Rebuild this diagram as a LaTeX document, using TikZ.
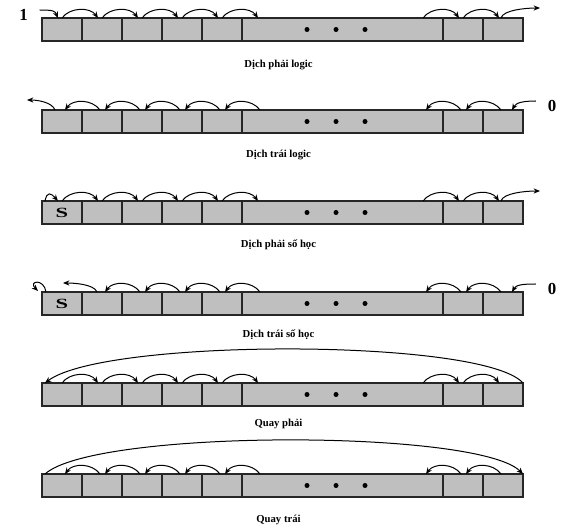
\documentclass[tikz,border=0pt]{standalone}
\usepackage{fontspec}
\usepackage{graphicx}
\setmainfont{Liberation Serif}
\usetikzlibrary{arrows.meta, positioning, calc}

\begin{document}
\begin{tikzpicture}[
    x=0.25mm, y=-0.25mm,
    cell/.style={
      draw=black!85,
      line width=0.6mm,
      fill=black!25,
      anchor=north west,
      minimum width=10mm,
      minimum height=5.75mm,
      inner sep=0pt,
      outer sep=0pt
    },
    widecell/.style={
      cell,
      minimum width=50.25mm
    },
    caption/.style={
      font=\bfseries\fontsize{7.6}{9}\selectfont
    },
    bit/.style={
      font=\bfseries\fontsize{12}{14}\selectfont
    },
    sign/.style={
      font=\bfseries\fontsize{10}{12}\selectfont
    },
    arrow/.style={
      -{Stealth[length=1.6mm, width=1.3mm]},
      line width=0.25mm
    },
    rhop/.style={
      arrow,
      to path={.. controls +(8,-11) and +(-8,-11) .. (\tikztotarget)}
    },
    lhop/.style={
      arrow,
      to path={.. controls +(-8,-11) and +(8,-11) .. (\tikztotarget)}
    }
  ]

    \useasboundingbox (0,0) rectangle (565,531);

    % Registers
    \foreach \r/\top in {1/18, 2/110, 3/201, 4/292, 5/383, 6/474} {
      \node[cell] (reg\r-1) at (42,\top) {};
      \foreach \i [count=\j from 2] in {1,...,4}
        \node[cell] (reg\r-\j) at (reg\r-\i.north east) {};
      \node[widecell] (reg\r-6) at (reg\r-5.north east) {};
      \node[cell] (reg\r-7) at (reg\r-6.north east) {};
      \node[cell] (reg\r-8) at (reg\r-7.north east) {};
      \foreach \dx in {65,94,123}
        \fill ($(reg\r-6.west)+(\dx,0)$) circle (2.5);
    }

    % Sign bits
    \node[sign] (s3) at (reg3-1) {\scalebox{1.6}[1]{S}};
    \node[sign] (s4) at (reg4-1) {\scalebox{1.6}[1]{S}};

    % Shifts to the right
    \foreach \r in {1,3,5}
      \foreach \a/\b in {1/2,2/3,3/4,4/5,5/6,6/7,7/8}
        \draw[rhop] ($(reg\r-\a.north east)+(-20,0)$) to ($(reg\r-\b.north west)+(16,0)$);

    % Shifts to the left
    \foreach \r in {2,6}
      \foreach \b/\a in {2/1,3/2,4/3,5/4,6/5,7/6,8/7}
        \draw[lhop] ($(reg\r-\b.north west)+(18,0)$) to ($(reg\r-\a.north east)+(-17,0)$);
    \foreach \b/\a in {3/2,4/3,5/4,6/5,7/6,8/7}
      \draw[lhop] ($(reg4-\b.north west)+(18,0)$) to ($(reg4-\a.north east)+(-17,0)$);

    % Row 1
    \node[bit] (one) at (23.5,15) {1};
    \draw[arrow] ($(one.east)+(7,-5)$) .. controls +(14,0) and +(-3,-7) .. ($(reg1-1.north west)+(16,0)$);
    \coordinate (out1) at (540,8);
    \draw[arrow] ($(reg1-8.north west)+(18,0)$) .. controls +(2,-8) and +(-14,0) .. (out1);

    % Row 2
    \node[bit] (zero2) at (552,106) {0};
    \draw[arrow] ($(zero2.west)+(-7,-5)$) .. controls +(-14,0) and +(4,-7) .. ($(reg2-8.north west)+(29,0)$);
    \coordinate (out2) at (27,100);
    \draw[arrow] ($(reg2-1.north west)+(13,0)$) .. controls +(-3,-8) and +(10,0) .. (out2);

    % Row 3
    \draw[arrow] ($(reg3-1.north west)+(3,0)$) .. controls +(2,-10) and +(-7,-8) .. ($(reg3-1.north west)+(16,0)$);
    \coordinate (out3) at (540,191);
    \draw[arrow] ($(reg3-8.north west)+(18,0)$) .. controls +(2,-8) and +(-14,0) .. (out3);

    % Row 4
    \node[bit] (zero4) at (552,289) {0};
    \draw[arrow] ($(zero4.west)+(-7,-5)$) .. controls +(-14,0) and +(4,-7) .. ($(reg4-8.north west)+(29,0)$);
    \draw[arrow] ($(reg4-1.north west)+(4,0)$) .. controls +(-2,-14) and +(-10,-10) .. ($(reg4-1.north west)+(-4,-1)$);
    \coordinate (out4) at (63,283);
    \draw[arrow] ($(reg4-2.north west)+(15,0)$) .. controls +(-3,-8) and +(10,0) .. (out4);

    % Rotations
    \draw[arrow] (reg5-8.north east) .. controls +(-40,-45) and +(60,-45) .. ($(reg5-1.north west)+(3,0)$);
    \draw[arrow] ($(reg6-1.north west)+(3,0)$) .. controls +(50,-45) and +(-45,-45) .. (reg6-8.north east);

    % Captions
    \node[caption] (cap1) at ($(reg1-1.south west)!.5!(reg1-8.south east)+(-4,24)$) {Dịch phải logic};
    \node[caption] (cap2) at ($(reg2-1.south west)!.5!(reg2-8.south east)+(-4,22)$) {Dịch trái logic};
    \node[caption] (cap3) at ($(reg3-1.south west)!.5!(reg3-8.south east)+(-4,21)$) {Dịch phải số học};
    \node[caption] (cap4) at ($(reg4-1.south west)!.5!(reg4-8.south east)+(-4,20)$) {Dịch trái số học};
    \node[caption] (cap5) at ($(reg5-1.south west)!.5!(reg5-8.south east)+(-4,18)$) {Quay phải};
    \node[caption] (cap6) at ($(reg6-1.south west)!.5!(reg6-8.south east)+(-4,23)$) {Quay trái};

  \end{tikzpicture}
\end{document}
